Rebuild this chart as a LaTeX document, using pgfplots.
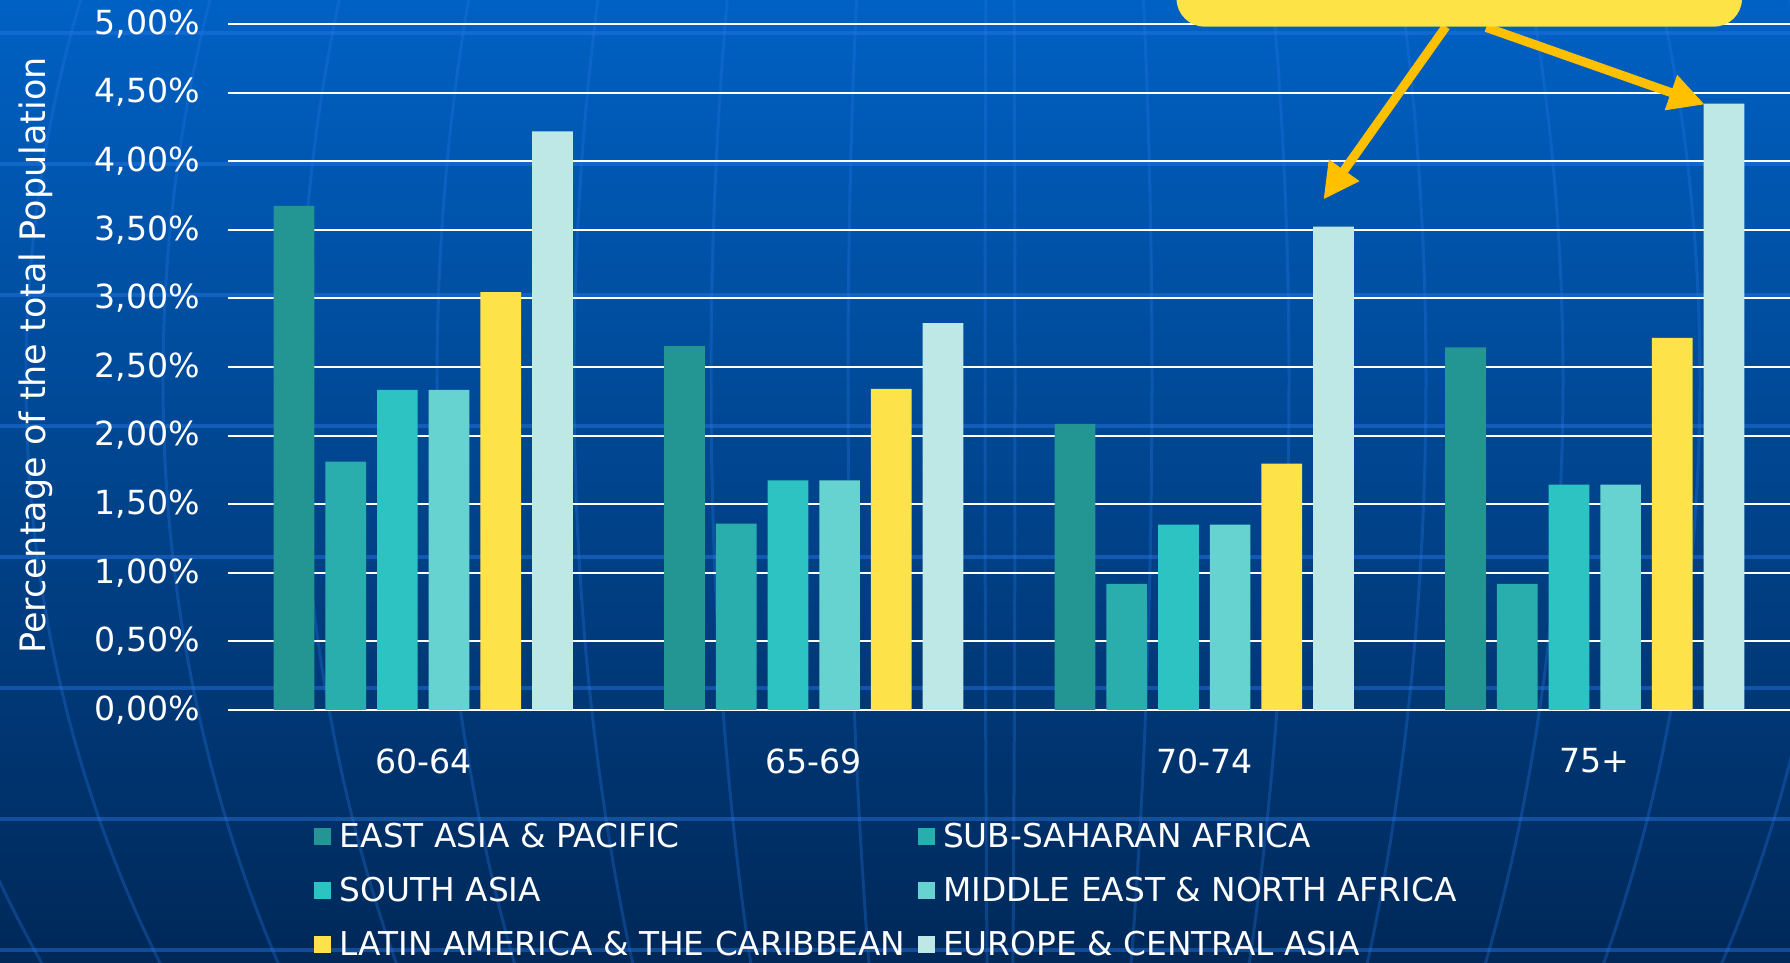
\documentclass[border=0pt]{standalone}
\usepackage{fontspec}
\setmainfont{DejaVu Sans}
\usepackage{pgfplots}
\usepackage{pgfplotstable}
\pgfplotsset{compat=1.18}
\usetikzlibrary{arrows.meta}

\definecolor{eap}{RGB}{35,149,147}
\definecolor{ssa}{RGB}{42,173,173}
\definecolor{sa}{RGB}{46,195,195}
\definecolor{mena}{RGB}{102,211,209}
\definecolor{lac}{RGB}{253,226,74}
\definecolor{eca}{RGB}{190,232,230}
\definecolor{bgtop}{RGB}{0,97,196}
\definecolor{bgmid}{RGB}{0,74,150}
\definecolor{bgbot}{RGB}{0,40,88}
\definecolor{globe}{RGB}{40,120,230}
\definecolor{callout}{RGB}{253,227,70}
\definecolor{arrowc}{RGB}{255,192,0}

% share of the total population, in percent, by age group
\pgfplotstableread{
x eap   ssa   sa    mena  lac   eca
0 3.674 1.810 2.333 2.333 3.045 4.218
1 2.653 1.359 1.674 1.674 2.340 2.819
2 2.085 0.919 1.351 1.351 1.796 3.523
3 2.643 0.919 1.643 1.643 2.712 4.419
}\agedata

\begin{document}
\begin{tikzpicture}
\path[use as bounding box] (-114pt,-126.5pt) rectangle (781pt,355pt);
\begin{scope}
\clip (-114pt,-126.5pt) rectangle (781pt,355pt);
% backdrop: blue gradient with a faint globe grid
\shade[top color=bgtop, middle color=bgmid, bottom color=bgbot]
  (-114pt,-126.5pt) rectangle (781pt,355pt);
\foreach \y in {338.7,273.2,207.7,142.2,76.7,11.2,-54.3,-119.8}
  \draw[globe, opacity=0.45, line width=2pt] (-114pt,\y pt) -- (781pt,\y pt);
\foreach \k in {0,...,8}{
  \pgfmathsetmacro\rx{7.5+68.5*\k}
  \draw[globe, opacity=0.3, line width=1.5pt]
    (386pt,164.7pt) ellipse [x radius=\rx pt, y radius=575pt];
}

\begin{axis}[
  at={(0pt,0pt)}, anchor=south west,
  scale only axis, width=781pt, height=343pt,
  xmin=-0.5, xmax=3.5, ymin=0, ymax=5,
  enlargelimits=false, clip=false,
  ybar=5.5pt, bar width=20.35pt,
  xtick={0,1,2,3}, xticklabels={60-64,65-69,70-74,75+},
  ytick={0,0.5,1,1.5,2,2.5,3,3.5,4,4.5,5},
  yticklabels={{0,00\%},{0,50\%},{1,00\%},{1,50\%},{2,00\%},{2,50\%},
               {3,00\%},{3,50\%},{4,00\%},{4,50\%},{5,00\%}},
  axis lines*=left,
  x axis line style={white, line width=1.3pt, -},
  y axis line style={draw=none, -},
  major tick length=0pt,
  ymajorgrids, grid style={white, line width=1pt},
  tick label style={white, font=\fontsize{16.6}{19}\selectfont},
  yticklabel style={anchor=east, xshift=-10.5pt},
  xticklabel style={anchor=center, yshift=-25.5pt},
  legend columns=2,
  legend cell align=left,
  legend style={at={(axis description cs:0.055,-0.158)}, anchor=north west,
    draw=none, fill=none, text=white, inner sep=0pt,
    font=\fontsize{16.4}{20}\selectfont,
    row sep=9.4pt, column sep=2.3pt,
    /tikz/every even column/.append style={column sep=4pt}},
  legend image code/.code={\fill[#1] (0pt,-4.25pt) rectangle (8.5pt,4.25pt);},
]
\addplot[fill=eap,  draw=none] table[x=x, y=eap]  {\agedata};
\addlegendentry{EAST ASIA \& PACIFIC}
\addplot[fill=ssa,  draw=none] table[x=x, y=ssa]  {\agedata};
\addlegendentry{SUB-SAHARAN AFRICA}
\addplot[fill=sa,   draw=none] table[x=x, y=sa]   {\agedata};
\addlegendentry{SOUTH ASIA}
\addplot[fill=mena, draw=none] table[x=x, y=mena] {\agedata};
\addlegendentry{MIDDLE EAST \& NORTH AFRICA}
\addplot[fill=lac,  draw=none] table[x=x, y=lac]  {\agedata};
\addlegendentry{LATIN AMERICA \& THE CARIBBEAN}
\addplot[fill=eca,  draw=none] table[x=x, y=eca]  {\agedata};
\addlegendentry{EUROPE \& CENTRAL ASIA}

% callout pointing at the Europe & Central Asia bars
\draw[arrowc, line width=4.5pt, -{Triangle[length=18pt,width=17.4pt]}]
  (axis cs:2.619,4.981) -- (axis cs:2.305,3.72);
\draw[arrowc, line width=4.5pt, -{Triangle[length=18pt,width=17.4pt]}]
  (axis cs:2.722,4.975) -- (axis cs:3.282,4.413);
\fill[callout, rounded corners=14pt]
  (axis cs:1.929,4.981) rectangle (axis cs:3.377,5.6);
\end{axis}

\node[rotate=90, white, font=\fontsize{17.5}{21}\selectfont]
  at (-96.3pt,177.2pt) {Percentage of the total Population};
\end{scope}
\end{tikzpicture}
\end{document}
